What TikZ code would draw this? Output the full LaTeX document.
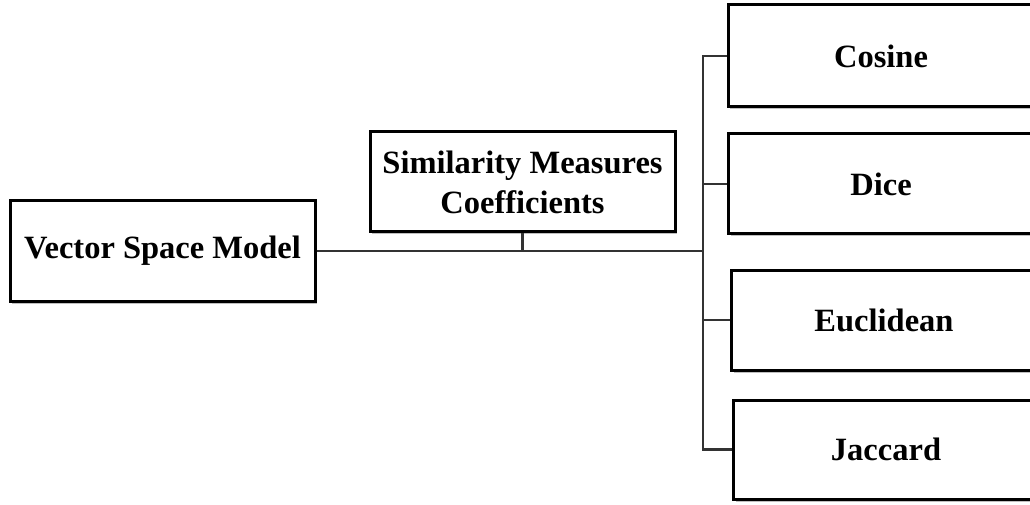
\documentclass[tikz,border=0pt]{standalone}
\usepackage{fontspec}
\setmainfont{Liberation Serif}
\usetikzlibrary{shadows}
\begin{document}
\begin{tikzpicture}[x=1pt,y=1pt,
  box/.style={draw=black, line width=3pt, fill=white, rectangle,
    minimum width=305pt, minimum height=100pt, inner sep=0pt,
    align=center, font=\fontsize{32.5}{40}\selectfont\bfseries,
    drop shadow={shadow xshift=2pt, shadow yshift=-2.5pt, fill=black, opacity=0.25}},
  link/.style={draw=black!80, line width=2.4pt}]
  \useasboundingbox (0,0) rectangle (1030,504);
  \clip (0,0) rectangle (1030,504);

  % root and intermediate node
  \node[box] (vsm) at (162.5,253) {Vector Space Model};
  \node[box] (smc) at (522.5,322) {Similarity Measures\\Coefficients};

  % similarity measures
  \node[box, minimum width=306pt, minimum height=102pt] (cos) at (881,448) {Cosine};
  \node[box] (dice) at (881,320) {Dice};
  \node[box] (euc)  at (884,184) {Euclidean};
  \node[box, minimum height=99pt] (jac)  at (886,54.5) {Jaccard};

  % bus line
  \coordinate (bus) at (703,0);
  \draw[link] (vsm.east) -- (vsm.east -| bus);
  \draw[link] (smc.south) -- (smc.south |- vsm.east);
  \draw[link] (cos.west) -- (cos.west -| bus) -- (jac.west -| bus) -- (jac.west);
  \draw[link] (dice.west) -- (dice.west -| bus);
  \draw[link] (euc.west) -- (euc.west -| bus);
\end{tikzpicture}
\end{document}
